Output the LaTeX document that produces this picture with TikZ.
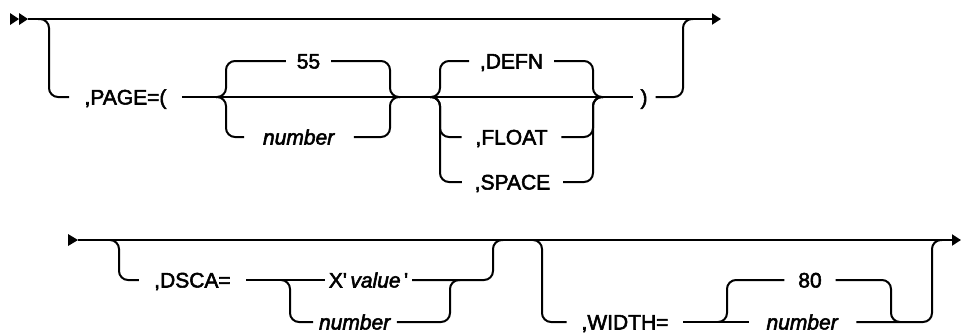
\documentclass[tikz,border=0pt]{standalone}
\usepackage{fontspec}
\setmainfont{Liberation Sans}[FakeBold=2.5]
\usetikzlibrary{arrows.meta}
\begin{document}
\begin{tikzpicture}[x=1pt,y=-1pt,line width=2pt,
  rc/.style={rounded corners=9pt},
  lbl/.style={inner xsep=#1,inner ysep=0pt,text height=15pt,text depth=0pt,font=\fontsize{21}{25}\selectfont},
  lbl/.default=10pt,
  endtip/.style={-{Triangle[length=9pt,width=11pt]}},
  starttip/.style={fill=black}]
\useasboundingbox (0,0) rectangle (963,335);
% ---------- row 1 ----------
\coordinate (s1) at (28,19);
\coordinate (e1) at (721,19);
\fill[starttip] (10,13) -- (19,19) -- (10,25) -- cycle;
\fill[starttip] (19,13) -- (28,19) -- (19,25) -- cycle;
\draw[endtip] (s1) -- (e1);

\node[lbl=14.5pt] (page) at (125.5,97) {,PAGE=(};
\node[lbl=10pt] (n55) at (308.5,61) {55};
\node[lbl=18pt] (num1) at (299,137) {\textit{number}};
\node[lbl=10pt] (defn) at (511.5,61) {,DEFN};
\node[lbl=13pt] (flt) at (511.5,137) {,FLOAT};
\node[lbl=12pt] (spc) at (512.5,182) {,SPACE};
\node[lbl=7pt] (rp) at (644,97) {)};

\draw[rc] (38,19) -- (49,19) -- (49,97) -- (page.west);
\draw (page.east) -- (rp.west);
\draw[rc] (216,97) -- (226,97) -- (226,61) -- (n55.west);
\draw[rc] (n55.east) -- (390,61) -- (390,97) -- (400,97);
\draw[rc] (216,97) -- (226,97) -- (226,137) -- (num1.west);
\draw[rc] (num1.east) -- (390,137) -- (390,97) -- (400,97);
\draw[rc] (430,97) -- (440,97) -- (440,61) -- (defn.west);
\draw[rc] (defn.east) -- (593,61) -- (593,97) -- (603,97);
\draw[rc] (430,97) -- (440,97) -- (440,137) -- (flt.west);
\draw[rc] (flt.east) -- (593,137) -- (593,97) -- (603,97);
\draw[rc] (430,97) -- (440,97) -- (440,182) -- (spc.west);
\draw[rc] (spc.east) -- (593,182) -- (593,97) -- (603,97);
\draw[rc] (rp.east) -- (683,97) -- (683,19) -- (693,19);

% ---------- row 2 ----------
\coordinate (s2) at (78,240);
\coordinate (e2) at (961,240);
\fill[starttip] (68,234) -- (78,240) -- (68,246) -- cycle;
\draw[endtip] (s2) -- (e2);

\node[lbl=14.5pt] (dsca) at (192.5,280) {,DSCA=};
\node[lbl=3pt] (xval) at (368.5,280) {X\textquotesingle\,\textit{value}\,\textquotesingle};
\node[lbl=5pt] (num2) at (355,322) {\textit{number}};
\node[lbl=14pt] (wdth) at (625,322) {,WIDTH=};
\node[lbl=17pt] (num3) at (802.5,322) {\textit{number}};
\node[lbl=13pt] (n80) at (810,280) {80};

\draw[rc] (110,240) -- (119,240) -- (119,280) -- (dsca.west);
\draw (dsca.east) -- (xval.west);
\draw[rc] (xval.east) -- (493,280) -- (493,240) -- (503,240);
\draw[rc] (281,280) -- (290,280) -- (290,322) -- (num2.west);
\draw[rc] (num2.east) -- (450,322) -- (450,280) -- (460,280);

\draw[rc] (533,240) -- (542,240) -- (542,322) -- (wdth.west);
\draw (wdth.east) -- (num3.west);
\draw[rc] (num3.east) -- (932,322) -- (932,240) -- (942,240);
\draw[rc] (718,322) -- (727,322) -- (727,280) -- (n80.west);
\draw[rc] (n80.east) -- (891,280) -- (891,322) -- (900,322);
\end{tikzpicture}
\end{document}
